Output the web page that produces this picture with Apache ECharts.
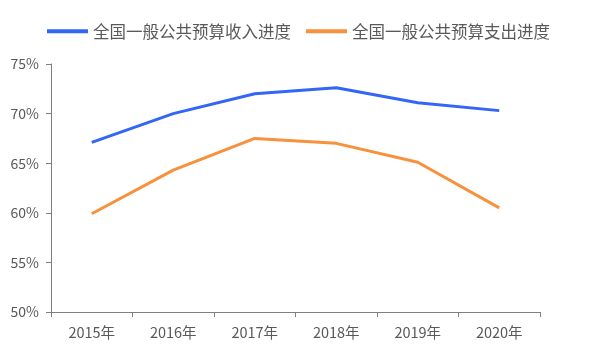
<!DOCTYPE html>
<html>
<head>
<meta charset="utf-8">
<script src="https://cdn.jsdelivr.net/npm/echarts@6/dist/echarts.min.js"></script>
<style>html,body{margin:0;padding:0;background:#fff}#c{width:594px;height:357px}</style>
</head>
<body>
<div id="c"></div>
<script>
const categories = ['2015年', '2016年', '2017年', '2018年', '2019年', '2020年'];
const incomeProgress = [67.1, 70.0, 72.0, 72.6, 71.1, 70.3];
const expenditureProgress = [59.9, 64.3, 67.5, 67.0, 65.1, 60.5];
const seriesNames = ['全国一般公共预算收入进度', '全国一般公共预算支出进度'];

const chart = echarts.init(document.getElementById('c'));
const font = '"Noto Sans CJK SC", sans-serif';
chart.setOption({
  animation: false,
  color: ['#3366F5', '#F7913C'],
  legend: {
    top: 18,
    left: 42,
    itemWidth: 41,
    itemHeight: 4,
    itemGap: 15,
    icon: 'rect',
    textStyle: { fontFamily: font, fontSize: 16.5, color: '#595959' },
    data: seriesNames
  },
  grid: { left: 51, right: 54, top: 64, bottom: 45 },
  xAxis: {
    type: 'category',
    data: categories,
    boundaryGap: true,
    axisLine: { lineStyle: { color: '#7f7f7f', width: 1 } },
    axisTick: { show: true, length: 5, lineStyle: { color: '#7f7f7f' } },
    axisLabel: { fontFamily: font, fontSize: 14.5, color: '#595959', margin: 13 }
  },
  yAxis: {
    type: 'value',
    min: 50, max: 75, interval: 5,
    splitLine: { show: false },
    axisLine: { show: true, lineStyle: { color: '#7f7f7f', width: 1 } },
    axisTick: { show: true, length: 5, lineStyle: { color: '#7f7f7f' } },
    axisLabel: { fontFamily: font, fontSize: 14, color: '#595959', margin: 12, formatter: '{value}%' }
  },
  series: [
    { name: seriesNames[0], type: 'line', data: incomeProgress, showSymbol: false, symbol: 'none', lineStyle: { width: 3 } },
    { name: seriesNames[1], type: 'line', data: expenditureProgress, showSymbol: false, symbol: 'none', lineStyle: { width: 3 } }
  ]
});
</script>
</body>
</html>
